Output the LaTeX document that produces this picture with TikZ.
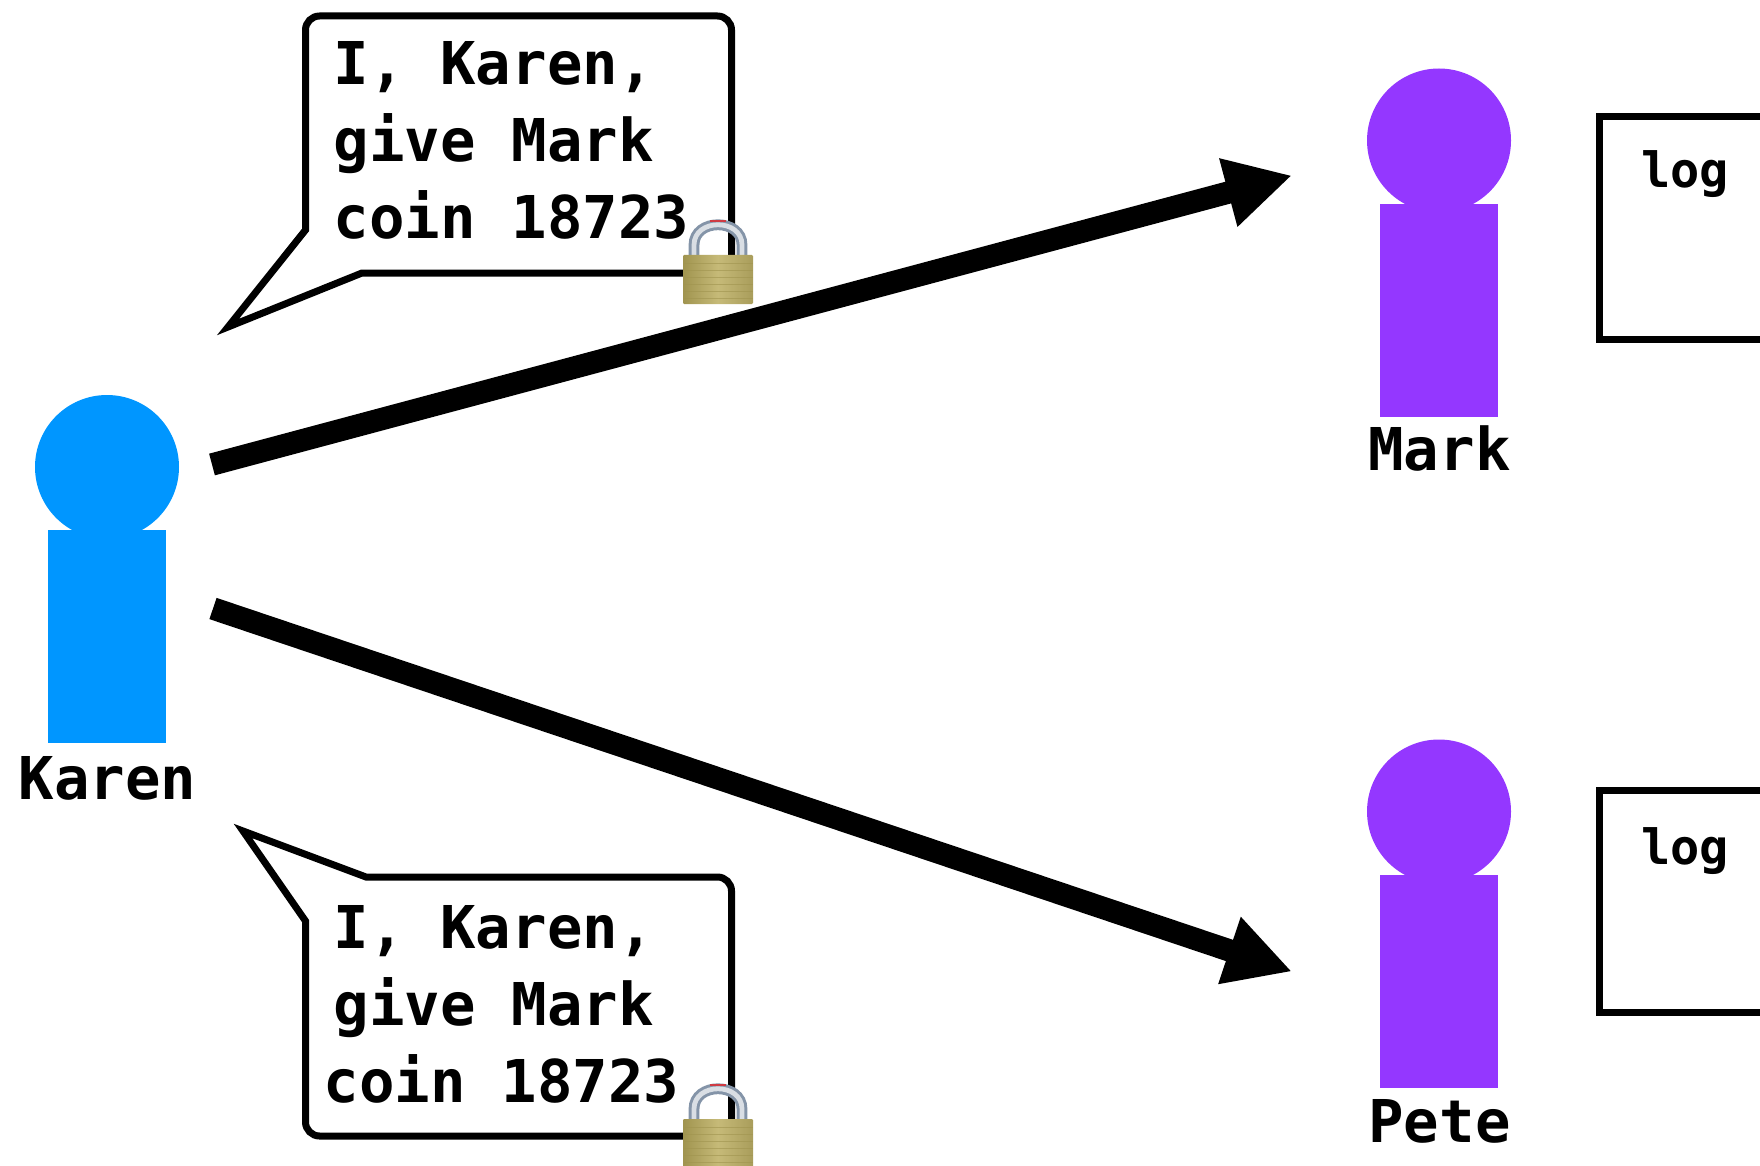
\documentclass[tikz,border=0pt]{standalone}
\usepackage{fontspec}
\usetikzlibrary{arrows.meta}
\setmonofont{DejaVu Sans Mono}
\definecolor{karenblue}{HTML}{0096FF}
\definecolor{peerpurple}{HTML}{9437FF}
\definecolor{brassA}{HTML}{A99D5B}
\definecolor{brassB}{HTML}{C6BA78}
\definecolor{brassC}{HTML}{A0944F}
\definecolor{steelA}{HTML}{8494A8}
\definecolor{steelB}{HTML}{D9DEE4}
\tikzset{
  x=0.5pt,y=-0.5pt,
  bigtxt/.style={inner sep=0pt,font=\ttfamily\bfseries\fontsize{29.5}{29.5}\selectfont,text=black},
  logtxt/.style={inner sep=0pt,anchor=base west,font=\ttfamily\bfseries\fontsize{24.3}{24.3}\selectfont,text=black},
  head/.style={circle,draw=none,inner sep=0pt,minimum size=72pt},
  torso/.style={rectangle,draw=none,inner sep=0pt,minimum width=59pt,minimum height=106.5pt},
  bubble/.style={draw=black,line width=3.5pt,fill=white,miter limit=10,line join=miter},
  logbox/.style={draw=black,line width=3.5pt,fill=white},
  sendarrow/.style={line width=11.2pt,-{Triangle[length=33pt,width=33pt]}},
  lockpic/.pic={
    \draw[steelA,line width=5.4pt] (-20,2) -- (-20,-10) .. controls (-20,-37) and (28,-37) .. (28,-10) -- (28,2);
    \draw[steelB,line width=2.4pt] (-20,2) -- (-20,-10) .. controls (-20,-37) and (28,-37) .. (28,-10) -- (28,2);
    \draw[red!60!steelA,line width=.8pt] (-4,-34) -- (12,-34);
    \shade[left color=brassC,right color=brassA,middle color=brassB,rounded corners=.6pt] (-31,0) rectangle (39,49);
    \foreach \yy in {8,15,22,29,36,43}{\draw[brassC,line width=.3pt,opacity=.6] (-31,\yy) -- (39,\yy);}
  }
}
\begin{document}
\begin{tikzpicture}
\useasboundingbox (0,0) rectangle (1760,1166);
% people
\node[head,fill=karenblue] (karenhead) at (107,467) {};
\node[torso,fill=karenblue] (karenbody) at (107,636.5) {};
\node[bigtxt] (karenlabel) at (107.5,778) {Karen};
\node[head,fill=peerpurple] (markhead) at (1439,140.5) {};
\node[torso,fill=peerpurple] (markbody) at (1439,310.5) {};
\node[bigtxt] (marklabel) at (1439.5,449) {Mark};
\node[head,fill=peerpurple] (petehead) at (1439,811.5) {};
\node[torso,fill=peerpurple] (petebody) at (1439,981.5) {};
\node[bigtxt] (petelabel) at (1439.5,1121) {Pete};
% logs
\draw[logbox] (1770,116.5) -- (1599,116.5) -- (1599,339) -- (1770,339);
\node[logtxt] (marklog) at (1641,188) {log};
\draw[logbox] (1770,790) -- (1599,790) -- (1599,1012) -- (1770,1012);
\node[logtxt] (petelog) at (1641,864) {log};
% bubbles
\draw[bubble] (305.5,230) [rounded corners=7pt] -- (305.5,16) -- (731.5,16) -- (731.5,273) [sharp corners] -- (362,273) -- (228,327) -- cycle;
\node[bigtxt,anchor=base west] (t1a) at (333.5,85) {I, Karen,};
\node[bigtxt,anchor=base west] (t1b) at (333.5,162) {give Mark};
\node[bigtxt,anchor=base west] (t1c) at (333.5,239) {coin 18723};
\draw[bubble] (305.5,921) [rounded corners=7pt] -- (305.5,1136) -- (731.5,1136) -- (731.5,877) [sharp corners] -- (366,877) -- (243,831) -- cycle;
\node[bigtxt,anchor=base west] (t2a) at (333.5,948) {I, Karen,};
\node[bigtxt,anchor=base west] (t2b) at (333.5,1025) {give Mark};
\node[bigtxt,anchor=base west] (t2c) at (323.5,1102) {coin 18723};
% arrows
\coordinate (a1s) at (212,464.5);
\coordinate (a1e) at (1292,175.5);
\coordinate (a2s) at (213,608.5);
\coordinate (a2e) at (1292,971.5);
\draw[sendarrow] (a1s) -- (a1e);
\draw[sendarrow] (a2s) -- (a2e);
% locks
\pic at (714,255) {lockpic};
\pic at (714,1119) {lockpic};
\end{tikzpicture}
\end{document}
